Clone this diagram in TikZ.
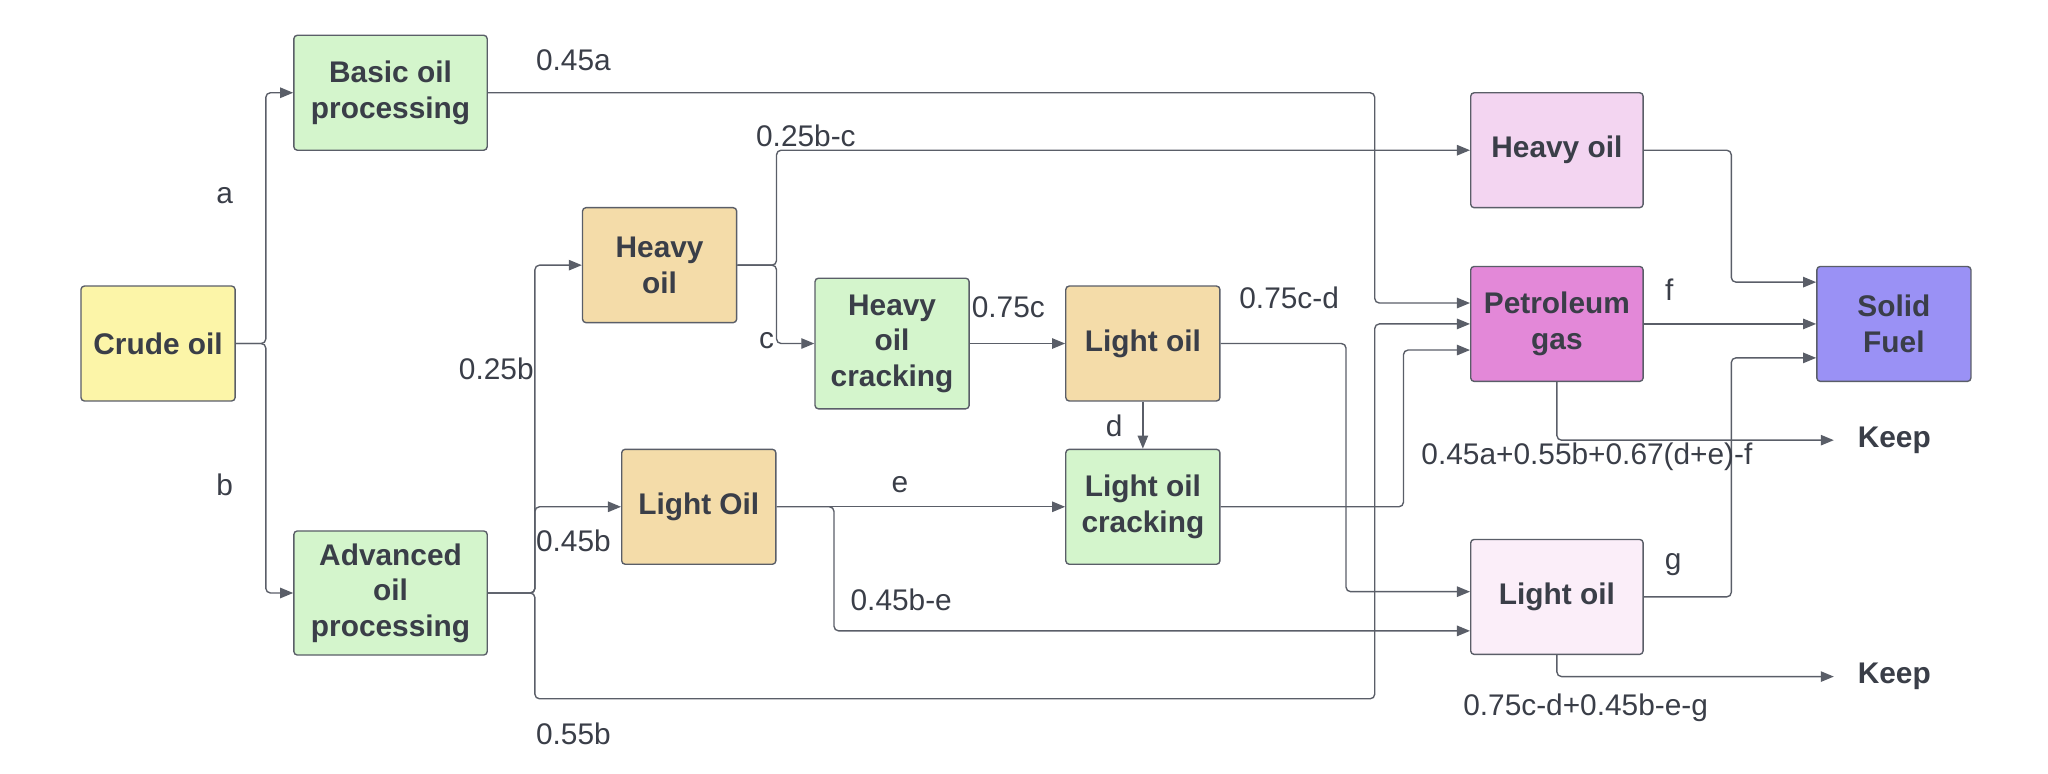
\documentclass[tikz,border=0pt]{standalone}
\usepackage{fontspec}
\setmainfont{Liberation Sans}
\usetikzlibrary{arrows.meta}
\definecolor{linec}{HTML}{5A5E68}
\definecolor{txt}{HTML}{3A3E48}
\definecolor{crudefill}{HTML}{FCF5A8}
\definecolor{procfill}{HTML}{D4F5CC}
\definecolor{oilfill}{HTML}{F4DCA9}
\definecolor{heavyfill}{HTML}{F3D5F1}
\definecolor{gasfill}{HTML}{E388D8}
\definecolor{lightfill}{HTML}{FBEEF9}
\definecolor{fuelfill}{HTML}{9A91F5}
\tikzset{
	box/.style={draw=linec, line width=0.6pt, rounded corners=1.5pt, minimum width=23.6mm, minimum height=17.6mm, align=center, text=txt, inner sep=1pt, font=\fontsize{13}{15.5}\selectfont\bfseries},
	flow/.style={draw=linec, line width=0.6pt, rounded corners=2pt, -{Triangle[length=2mm,width=1.6mm]}},
	lab/.style={text=txt, inner sep=0pt, font=\fontsize{13}{15.5}\selectfont},
	keep/.style={text=txt, anchor=west, inner xsep=3.6mm, inner ysep=0pt, font=\fontsize{13}{15.5}\selectfont\bfseries}
}
\begin{document}
\begin{tikzpicture}[x=0.2mm, y=-0.2mm]
	\useasboundingbox (0,0) rectangle (1568,592);
	\node[box, fill=crudefill] (crude) at (121,263) {Crude oil};
	\node[box, fill=procfill, minimum width=29.6mm] (basic) at (299,71) {Basic oil\\processing};
	\node[box, fill=procfill, minimum width=29.6mm, minimum height=19mm] (adv) at (299,454) {Advanced\\oil\\processing};
	\node[box, fill=oilfill] (heavy) at (505,203) {Heavy\\oil};
	\node[box, fill=procfill, minimum height=20mm] (hoc) at (683,263) {Heavy\\oil\\cracking};
	\node[box, fill=oilfill] (lmid) at (875,263) {Light oil};
	\node[box, fill=oilfill] (llow) at (535,388) {Light Oil};
	\node[box, fill=procfill] (loc) at (875,388) {Light oil\\cracking};
	\node[box, fill=heavyfill, minimum width=26.4mm] (heavyR) at (1192,115) {Heavy oil};
	\node[box, fill=gasfill, minimum width=26.4mm] (gas) at (1192,248) {Petroleum\\gas};
	\node[box, fill=lightfill, minimum width=26.4mm] (lightR) at (1192,457) {Light oil};
	\node[box, fill=fuelfill] (fuel) at (1450,248) {Solid\\Fuel};
	\node[keep] (keepgas) at (1404,337) {Keep};
	\node[keep] (keeplight) at (1404,518) {Keep};

	\draw[flow] (crude.east) -- ++(23,0) |- (basic.west);
	\draw[flow] (crude.east) -- ++(23,0) |- (adv.west);
	\draw[flow] (basic.east) -- ++(679,0) |- ([yshift=3.2mm]gas.west);
	\draw[flow] (adv.east) -- ++(36,0) |- (heavy.west);
	\draw[flow] (adv.east) -- ++(36,0) |- (llow.west);
	\draw[flow] (adv.east) -- ++(36,0) -- ++(0,81) -- ++(643,0) |- (gas.west);
	\draw[flow] (heavy.east) -- ++(30,0) |- (heavyR.west);
	\draw[flow] (heavy.east) -- ++(30,0) |- (hoc.west);
	\draw[flow] (hoc.east) -- (lmid.west);
	\draw[flow] (lmid.south) -- (loc.north);
	\draw[flow] (lmid.east) -- ++(96,0) |- ([yshift=0.8mm]lightR.west);
	\draw[flow] (llow.east) -- (loc.west);
	\draw[flow] (llow.east) -- ++(44,0) |- ([yshift=-5.2mm]lightR.west);
	\draw[flow] (loc.east) -- ++(140,0) |- ([yshift=-4mm]gas.west);
	\draw[flow] (heavyR.east) -- ++(67,0) |- ([yshift=6.4mm]fuel.west);
	\draw[flow] (gas.east) -- (fuel.west);
	\draw[flow] (lightR.east) -- ++(67,0) |- ([yshift=-5.2mm]fuel.west);
	\draw[flow] (gas.south) |- (keepgas.west);
	\draw[flow] (lightR.south) |- (keeplight.west);

	\node[lab] (la) at (172,150) {a};
	\node[lab] (lb) at (172,371) {b};
	\node[lab] (lbasic) at (439,46) {0.45a};
	\node[lab] (lheavy) at (380,282) {0.25b};
	\node[lab] (llight) at (439,414) {0.45b};
	\node[lab] (lgas) at (439,562) {0.55b};
	\node[lab] (lheavyR) at (617,104) {0.25b-c};
	\node[lab] (lc) at (587,261) {c};
	\node[lab] (lcrack) at (772,235) {0.75c};
	\node[lab] (ld) at (853,326) {d};
	\node[lab] (lmidout) at (987,228) {0.75c-d};
	\node[lab] (le) at (689,371) {e};
	\node[lab] (llowout) at (690,459) {0.45b-e};
	\node[lab] (lf) at (1278,222) {f};
	\node[lab] (lg) at (1281,432) {g};
	\node[lab] (lkeepgas) at (1215,350) {0.45a+0.55b+0.67(d+e)-f};
	\node[lab] (lkeeplight) at (1214,542) {0.75c-d+0.45b-e-g};
\end{tikzpicture}
\end{document}
